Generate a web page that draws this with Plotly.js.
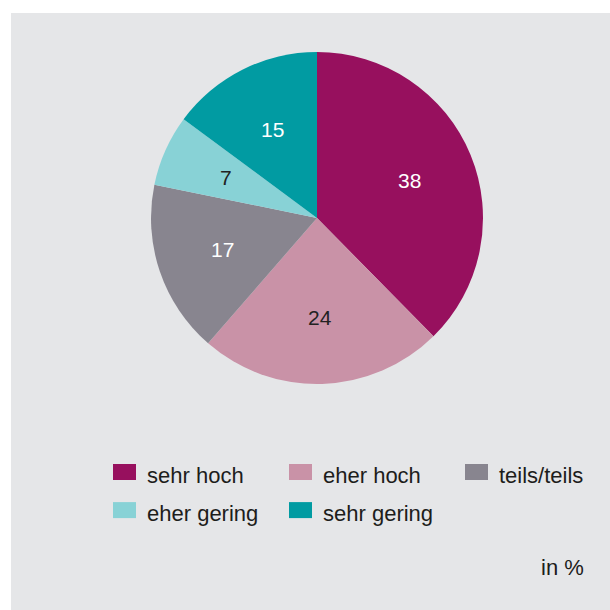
<!DOCTYPE html>
<html>
<head>
<meta charset="utf-8">
<script src="https://cdn.plot.ly/plotly-3.0.1.min.js"></script>
<style>
  html, body { margin: 0; padding: 0; background: #ffffff; overflow: hidden; width: 610px; height: 610px; }
  #chart { position: absolute; left: 11px; top: 13px; width: 640px; height: 597px; }
  #chart .legendpie { d: path("M11.5,8H-11.5V-8H11.5Z"); }
</style>
</head>
<body>
<div id="chart"></div>
<script>
const categories = ["sehr hoch", "eher hoch", "teils/teils", "eher gering", "sehr gering"];
const values = [38, 24, 17, 7, 15];
const sliceColors = ["#97105e", "#c992a7", "#88858f", "#88d2d6", "#019ba2"];
const labelColors = ["#ffffff", "#222222", "#ffffff", "#222222", "#ffffff"];
const unitNote = "in %";

const W = 640, H = 597;
const fx = px => px / W;
const fy = py => 1 - py / H;

// pie geometry (pixels inside the chart div)
const pieCx = 306, pieCy = 205, pieR = 166;
const pieDomain = { x: [fx(pieCx - pieR), fx(pieCx + pieR)], y: [fy(pieCy + pieR), fy(pieCy - pieR)] };

// value labels on each slice's mid-angle at 60% of the radius
const total = values.reduce((a, b) => a + b, 0);
let cum = 0;
const valueLabels = values.map((v, i) => {
  const mid = (cum + v / 2) / total * 2 * Math.PI;
  cum += v;
  const r = 0.6 * pieR;
  return {
    text: String(v),
    xref: "paper", yref: "paper",
    x: fx(pieCx + r * Math.sin(mid)),
    y: fy(pieCy - r * Math.cos(mid)),
    xanchor: "center", yanchor: "middle",
    showarrow: false,
    font: { size: 21, color: labelColors[i] }
  };
});

const trace = {
  type: "pie",
  labels: categories.map(c => '<span style="font-size:22px">' + c + '</span>'),
  values: values,
  sort: false,
  direction: "clockwise",
  rotation: 0,
  marker: { colors: sliceColors, line: { width: 0 } },
  textinfo: "none",
  domain: pieDomain,
  hoverinfo: "none",
  automargin: false
};

const layout = {
  width: W,
  height: H,
  margin: { l: 0, r: 0, t: 0, b: 0 },
  paper_bgcolor: "#e5e6e8",
  plot_bgcolor: "#e5e6e8",
  font: { family: "Liberation Sans, Arial, sans-serif", color: "#1d1d1b", size: 20 },
  showlegend: true,
  legend: {
    orientation: "h",
    x: fx(91),
    xanchor: "left",
    y: fy(434.95),
    yanchor: "top",
    itemwidth: 35,
    entrywidth: 126,
    entrywidthmode: "pixels",
    font: { size: 27, color: "#1d1d1b" },
    bgcolor: "rgba(0,0,0,0)",
    traceorder: "normal"
  },
  annotations: valueLabels.concat([{
    text: unitNote,
    xref: "paper", yref: "paper",
    x: fx(575), y: fy(554),
    xanchor: "right", yanchor: "middle",
    showarrow: false,
    font: { size: 22, color: "#1d1d1b" }
  }])
};

Plotly.newPlot("chart", [trace], layout, { displayModeBar: false, staticPlot: true });
</script>
</body>
</html>
